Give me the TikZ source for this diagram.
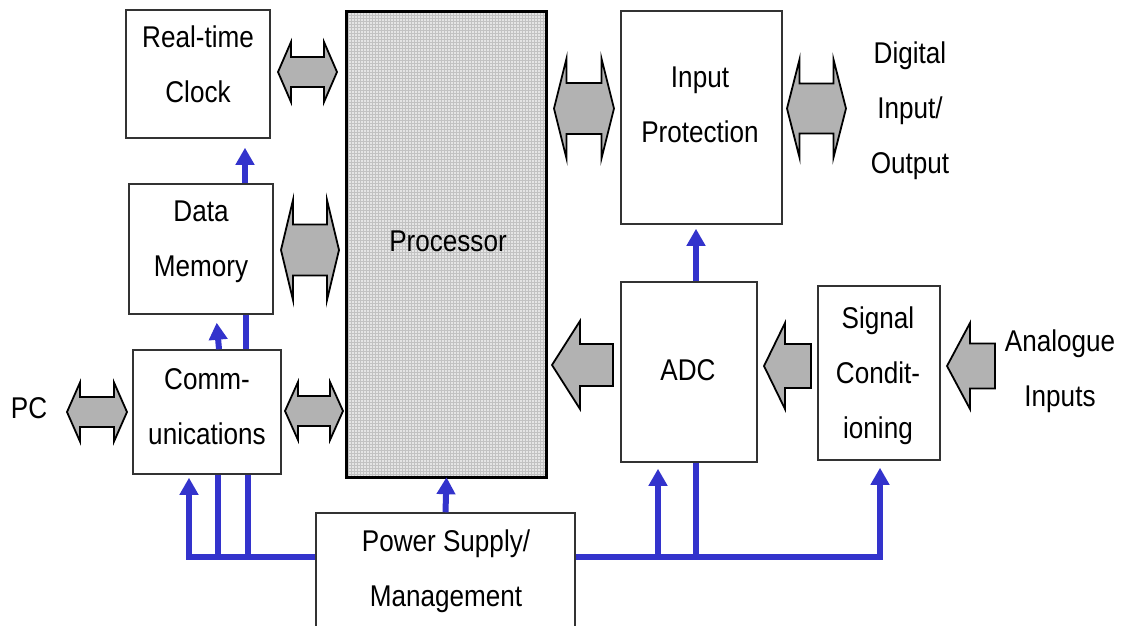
\documentclass[tikz,border=0pt]{standalone}
\usepackage{fontspec}
\newfontfamily\diagfont[FakeStretch=0.87]{Liberation Sans}
\usetikzlibrary{arrows.meta}
\definecolor{busblue}{RGB}{51,51,204}
\definecolor{arrowgray}{RGB}{178,178,178}

% Hollow double-headed block arrow: x-left, x-right, y-centre, head half-height, shaft half-height, head length
\newcommand\BlockDouble[6]{%
  \draw[blockarrow] (#1,#3) -- (#1+#6,#3-#4) -- (#1+#6,#3-#5) -- (#2-#6,#3-#5)
    -- (#2-#6,#3-#4) -- (#2,#3) -- (#2-#6,#3+#4) -- (#2-#6,#3+#5)
    -- (#1+#6,#3+#5) -- (#1+#6,#3+#4) -- cycle;}
% Left-pointing block arrow: tip x, tail x, y-centre, head half-height, shaft half-height, head length
\newcommand\BlockLeft[6]{%
  \draw[blockarrow] (#1,#3) -- (#1+#6,#3-#4) -- (#1+#6,#3-#5) -- (#2,#3-#5)
    -- (#2,#3+#5) -- (#1+#6,#3+#5) -- (#1+#6,#3+#4) -- cycle;}

\begin{document}
\begin{tikzpicture}[x=1pt,y=-1pt,
  box/.style={draw=black!80, line width=1.5pt, fill=white, inner sep=0pt},
  lbl/.style={font=\diagfont\fontsize{30}{55}\selectfont, align=center, inner sep=0pt},
  bus/.style={draw=busblue, line width=6pt},
  feed/.style={bus, -{Triangle[width=18pt,length=17pt]}},
  blockarrow/.style={draw=black, line width=1.8pt, fill=arrowgray, line join=miter}]

\useasboundingbox (0,0) rectangle (1122,625);
\clip (0,0) rectangle (1122,625);
\fill[white] (0,0) rectangle (1122,625);

% ---- blocks ----
\node[box, minimum width=144pt, minimum height=128pt] (rtc)  at (198,74) {};
\node[box, minimum width=144pt, minimum height=130pt] (dm)   at (201,249) {};
\node[box, minimum width=148pt, minimum height=124pt] (comm) at (207,412) {};
\node[box, minimum width=161pt, minimum height=213pt] (ip)   at (701.5,117.5) {};
\node[box, minimum width=136pt, minimum height=180pt] (adc)  at (689,372) {};
\node[box, minimum width=122pt, minimum height=174pt] (sig)  at (879,373) {};
\node[box, minimum width=259pt, minimum height=137pt] (ps)   at (445.5,581.5) {};
\node[minimum width=199pt, minimum height=465pt, inner sep=0pt] (proc) at (446.5,244.5) {};

% processor: fine grid fill with heavy outline
\begin{scope}
  \clip (proc.south west) rectangle (proc.north east);
  \fill[black!10] (proc.south west) rectangle (proc.north east);
  \draw[black!24, line width=0.5pt, step=3pt] (proc.south west) grid (proc.north east);
\end{scope}
\draw[black, line width=3pt] (proc.south west) rectangle (proc.north east);

% ---- power distribution ----
\coordinate (lbus) at (ps.west |- 0,557);
\coordinate (rbus) at (ps.east |- 0,557);
\draw[feed] (ps.north) -- (proc.south);
\draw[feed, shorten >=3pt] (lbus) -| ([xshift=-18pt]comm.south);
\draw[bus] ([xshift=11pt]comm.south) -- ([xshift=11pt]comm.south |- lbus);
\draw[bus] ([xshift=41pt]comm.south) -- ([xshift=41pt]comm.south |- lbus);
\draw[feed, shorten >=8pt] ([xshift=12pt]comm.north) -- ([xshift=15pt]dm.south);
\draw[bus] ([xshift=39pt]comm.north) -- ([xshift=45pt]dm.south);
\draw[feed, shorten >=9pt] ([xshift=44pt]dm.north) -- ([xshift=47pt]rtc.south);
\draw[feed, shorten >=7pt] (rbus) -| ([xshift=1pt]sig.south);
\draw[feed, shorten >=6pt] ([xshift=-31pt]adc.south |- rbus) -- ([xshift=-31pt]adc.south);
\draw[bus] ([xshift=7pt]adc.south |- rbus) -- ([xshift=7pt]adc.south);
\draw[feed, shorten >=4pt] ([xshift=7pt]adc.north) -- ([xshift=-5.5pt]ip.south);

% ---- data paths ----
\BlockDouble{278}{337}{72}{30}{15}{13}
\BlockDouble{281}{339}{250}{50}{25.5}{12}
\BlockDouble{285}{343}{411}{29}{15}{13}
\BlockDouble{67}{127}{412}{29.5}{15}{13}
\BlockDouble{554}{614}{108.5}{50}{25.5}{12.5}
\BlockDouble{787}{846}{108.5}{49}{25}{12.5}
\BlockLeft{552}{613}{365}{44}{21}{28}
\BlockLeft{764}{811}{366}{43}{22}{21}
\BlockLeft{947}{995}{366}{43}{22.5}{23}

% ---- labels ----
\node[lbl] (rtc-t)  at (198,64)    {Real-time\\Clock};
\node[lbl] (dm-t)   at (201,241.5) {Data\\Memory};
\node[lbl] (comm-t) at (207,407)   {Comm-\\unications};
\node[lbl] (proc-t) at (448,241)   {Processor};
\node[lbl] (ip-t)   at (700,104.5) {Input\\Protection};
\node[lbl] (adc-t)  at (688,370)   {ADC};
\node[lbl] (sig-t)  at (878,376)   {Signal\\Condit-\\ioning};
\node[lbl] (ps-t)   at (446,571)   {Power Supply/\\Management};
\node[lbl] (pc)     at (29,408)    {PC};
\node[lbl] (dio)    at (910,110.5) {Digital\\Input/\\Output};
\node[lbl] (ain)    at (1060,371)  {Analogue\\Inputs};
\end{tikzpicture}
\end{document}
